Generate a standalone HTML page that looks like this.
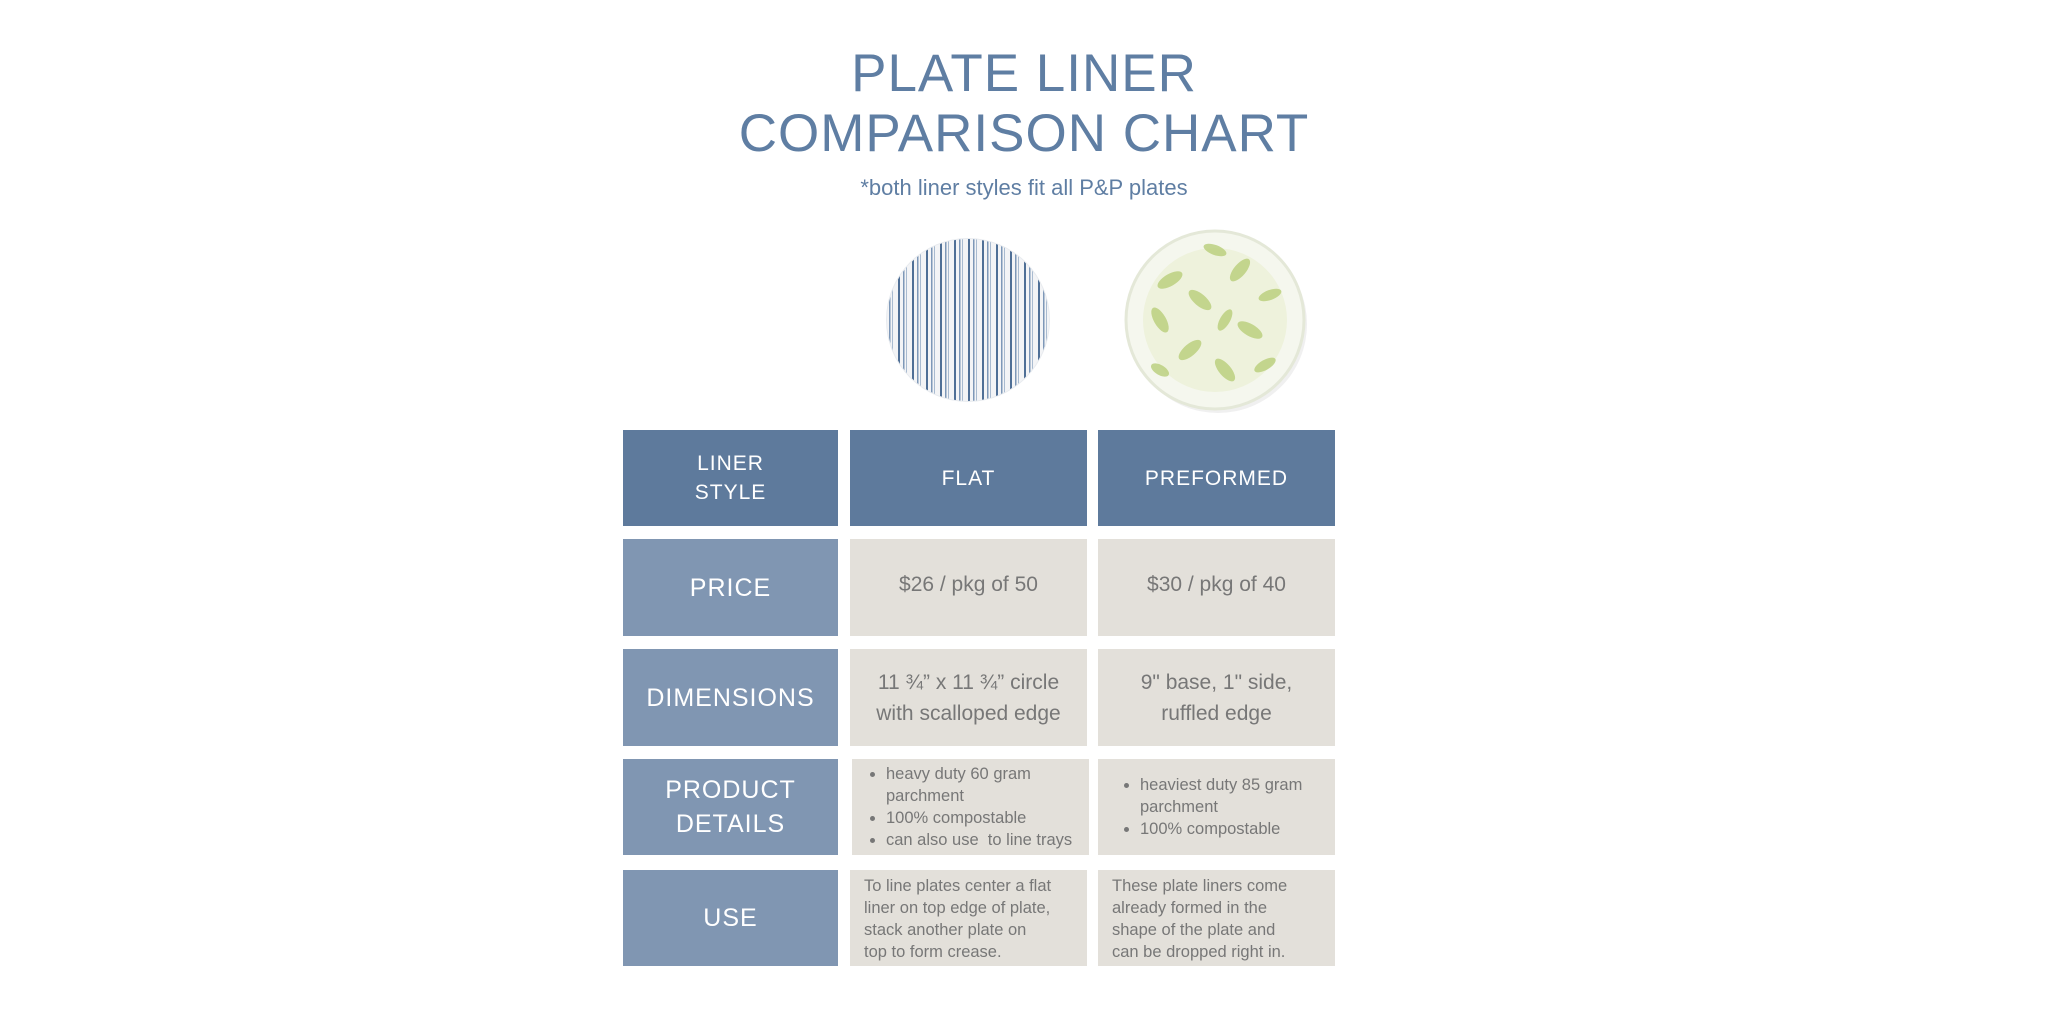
<!DOCTYPE html>
<html><head><meta charset="utf-8"><style>
*{margin:0;padding:0;box-sizing:border-box}
body{width:2048px;height:1024px;background:#fff;position:relative;overflow:hidden;font-family:"Liberation Sans",sans-serif}
.t{position:absolute;left:0;width:2048px;text-align:center;color:#5f7ea3;font-size:53px;letter-spacing:1px;line-height:60px}
.sub{position:absolute;left:0;width:2048px;text-align:center;color:#5f7ea3;font-size:22px;top:175px}
.c{position:absolute;display:flex;align-items:center;justify-content:center;text-align:center}
.h{background:#5e7a9c;color:#fff;font-size:21px;line-height:29px;letter-spacing:1px}
.l{background:#8096b2;color:#fff;font-size:25px;line-height:34px;letter-spacing:1px}
.g{background:#e3e0da;color:#777;font-size:21px;line-height:31px}
.s{background:#e3e0da;color:#777;font-size:16.5px;line-height:22px;text-align:left;justify-content:flex-start}
ul{padding-left:28px}
</style></head><body>
<div class="t" style="top:44px">PLATE LINER</div>
<div class="t" style="top:104px">COMPARISON CHART</div>
<div class="sub">*both liner styles fit all P&amp;P plates</div>
<svg style="position:absolute;left:0;top:0" width="2048" height="430">
<defs>
<pattern id="st" width="14" height="10" patternUnits="userSpaceOnUse">
<rect width="14" height="10" fill="#f3f4f6"/><rect x="2" width="2" height="10" fill="#4f6f96"/><rect x="7" width="1.5" height="10" fill="#7e98b8"/><rect x="10" width="1" height="10" fill="#a9bbd0"/></pattern>
<clipPath id="cp"><circle cx="968" cy="320" r="81"/></clipPath>
</defs>
<circle cx="968" cy="320" r="82" fill="#e8ebef"/>
<rect x="886" y="238" width="164" height="164" fill="url(#st)" clip-path="url(#cp)"/>
<circle cx="1218" cy="324" r="89" fill="#e6e6e6" opacity=".6"/>
<circle cx="1215" cy="320" r="89" fill="#f5f7ee" stroke="#e4e8d8" stroke-width="3"/>
<circle cx="1215" cy="320" r="72" fill="#eef2dc"/>
<g fill="#b9cf7a" opacity=".8">
<ellipse cx="1170" cy="280" rx="14" ry="6" transform="rotate(-30 1170 280)"/>
<ellipse cx="1200" cy="300" rx="14" ry="6" transform="rotate(40 1200 300)"/>
<ellipse cx="1240" cy="270" rx="14" ry="6" transform="rotate(-50 1240 270)"/>
<ellipse cx="1250" cy="330" rx="14" ry="6" transform="rotate(30 1250 330)"/>
<ellipse cx="1190" cy="350" rx="14" ry="6" transform="rotate(-40 1190 350)"/>
<ellipse cx="1225" cy="370" rx="14" ry="6" transform="rotate(50 1225 370)"/>
<ellipse cx="1160" cy="320" rx="14" ry="6" transform="rotate(60 1160 320)"/>
<ellipse cx="1270" cy="295" rx="12" ry="5" transform="rotate(-20 1270 295)"/>
<ellipse cx="1215" cy="250" rx="12" ry="5" transform="rotate(20 1215 250)"/>
<ellipse cx="1265" cy="365" rx="12" ry="5" transform="rotate(-30 1265 365)"/>
<ellipse cx="1160" cy="370" rx="10" ry="5" transform="rotate(30 1160 370)"/>
<ellipse cx="1225" cy="320" rx="12" ry="5" transform="rotate(-60 1225 320)"/>
</g>
</svg>
<div class="c h" style="left:623px;top:430px;width:215px;height:96px">LINER<br>STYLE</div>
<div class="c h" style="left:850px;top:430px;width:237px;height:96px">FLAT</div>
<div class="c h" style="left:1098px;top:430px;width:237px;height:96px">PREFORMED</div>
<div class="c l" style="left:623px;top:539px;width:215px;height:97px">PRICE</div>
<div class="c g" style="left:850px;top:539px;width:237px;height:97px;padding-bottom:6px">$26 / pkg of 50</div>
<div class="c g" style="left:1098px;top:539px;width:237px;height:97px;padding-bottom:6px">$30 / pkg of 40</div>
<div class="c l" style="left:623px;top:649px;width:215px;height:97px">DIMENSIONS</div>
<div class="c g" style="left:850px;top:649px;width:237px;height:97px">11 ¾” x 11 ¾” circle<br>with scalloped edge</div>
<div class="c g" style="left:1098px;top:649px;width:237px;height:97px">9" base, 1" side,<br>ruffled edge</div>
<div class="c l" style="left:623px;top:759px;width:215px;height:96px">PRODUCT<br>DETAILS</div>
<div class="c s" style="left:852px;top:759px;width:237px;height:96px;padding-left:6px"><ul><li>heavy duty 60 gram<br>parchment</li><li>100% compostable</li><li>can also use &nbsp;to line trays</li></ul></div>
<div class="c s" style="left:1098px;top:759px;width:237px;height:96px;padding-left:14px"><ul><li>heaviest duty 85 gram<br>parchment</li><li>100% compostable</li></ul></div>
<div class="c l" style="left:623px;top:870px;width:215px;height:96px">USE</div>
<div class="c s" style="left:850px;top:870px;width:237px;height:96px;padding-left:14px;align-items:flex-start;padding-top:5px">To line plates center a flat<br>liner on top edge of plate,<br>stack another plate on<br>top to form crease.</div>
<div class="c s" style="left:1098px;top:870px;width:237px;height:96px;padding-left:14px;align-items:flex-start;padding-top:5px">These plate liners come<br>already formed in the<br>shape of the plate and<br>can be dropped right in.</div>
</body></html>
